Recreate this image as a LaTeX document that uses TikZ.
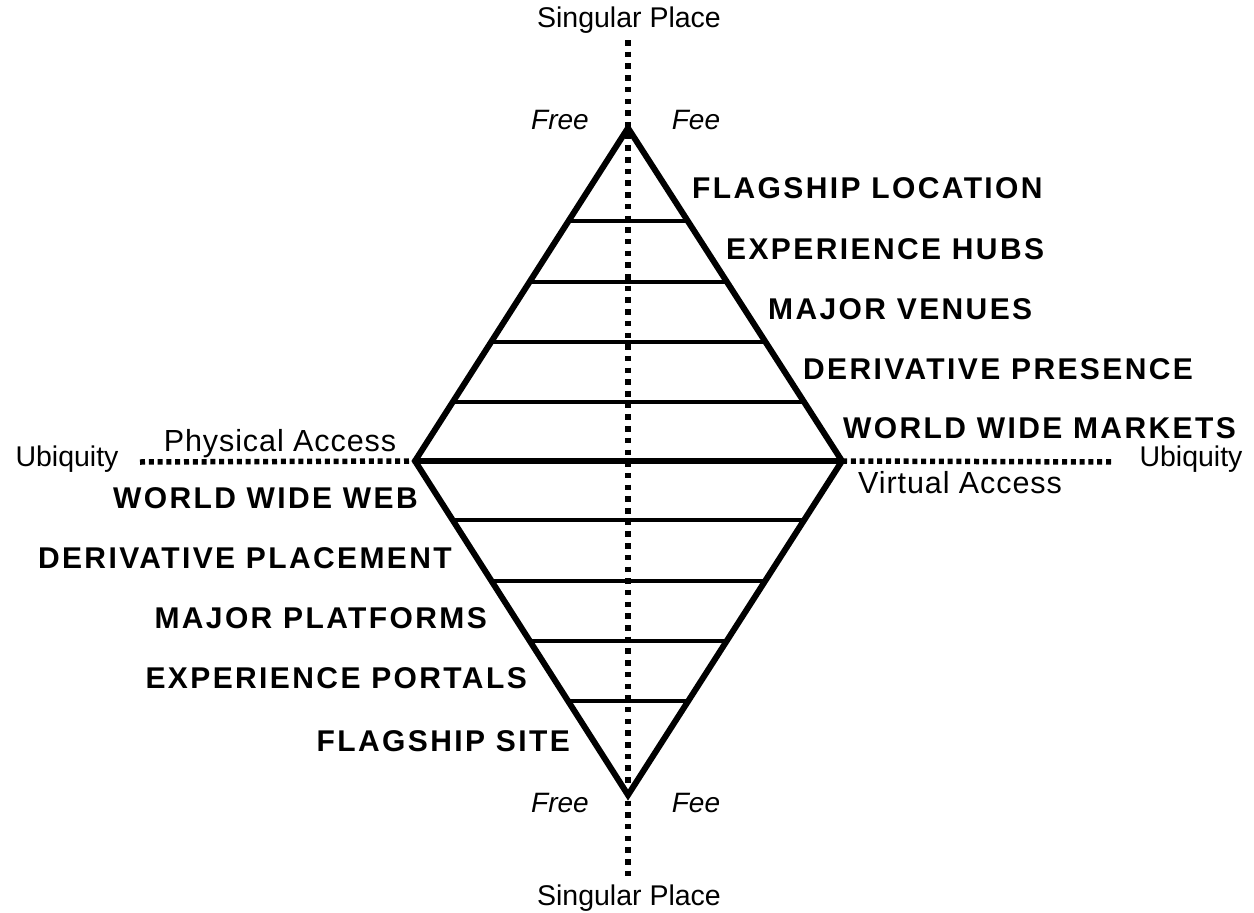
\documentclass[tikz,border=0pt]{standalone}
\usepackage{fontspec}
\setmainfont{Liberation Sans}
\newfontfamily\lblfont{Liberation Sans}[LetterSpace=8]
\newfontfamily\accfont{Liberation Sans}[LetterSpace=3]
\usetikzlibrary{calc}
\tikzset{
  vdots/.style={line width=6pt, dash pattern=on 5.5pt off 6.2pt},
  hdots/.style={line width=5.5pt, dash pattern=on 5pt off 3.8pt},
  rim/.style={line width=6pt, line join=miter, miter limit=20},
  rung/.style={line width=4pt},
  midrung/.style={line width=5.5pt},
  lbl/.style={font=\lblfont\bfseries\fontsize{30}{32}\selectfont, inner sep=0pt},
  plain/.style={font=\fontsize{28.5}{32}\selectfont, inner sep=0pt},
  acc/.style={font=\accfont\fontsize{30.5}{34}\selectfont, inner sep=0pt},
  ital/.style={font=\itshape\fontsize{28}{32}\selectfont, inner sep=0pt},
}
\begin{document}
\begin{tikzpicture}[x=1pt,y=-1pt]
\useasboundingbox[fill=white] (0,0) rectangle (1254,913);
% vertices
\coordinate (T) at (628,128);
\coordinate (B) at (628,795);
\coordinate (L) at (415,461);
\coordinate (R) at (842,461);
% dotted axis ends
\coordinate (vtop) at (628,40);
\coordinate (vbot) at (628,877);
\coordinate (hl) at (140,462);
\coordinate (hr) at (1113,462);
\draw[vdots] (vtop) -- (vbot);
\draw[hdots] (hl) -- (L);
\draw[hdots] (R) -- (hr);
% rungs
\foreach \f in {0.28,0.462,0.642,0.822}{
  \draw[rung] ($(T)!\f!(L)$) -- ($(T)!\f!(R)$);
  \draw[rung] ($(B)!\f!(L)$) -- ($(B)!\f!(R)$);
}
\draw[midrung] (L) -- (R);
\draw[rim] (T) -- (R) -- (B) -- (L) -- cycle;
% axis labels
\node[plain, anchor=base] (sptop) at (629,27) {Singular Place};
\node[plain, anchor=base] (spbot) at (629,905) {Singular Place};
\node[plain, anchor=base] (ubl) at (67,466) {Ubiquity};
\node[plain, anchor=base] (ubr) at (1191,466) {Ubiquity};
\node[acc, anchor=base] (phys) at (280,451) {Physical Access};
\node[acc, anchor=base] (virt) at (960,493) {Virtual Access};
\node[ital, anchor=base] (freet) at (560,129) {Free};
\node[ital, anchor=base] (feet) at (696,129) {Fee};
\node[ital, anchor=base] (freeb) at (560,812) {Free};
\node[ital, anchor=base] (feeb) at (696,812) {Fee};
% right labels
\node[lbl, anchor=base west] (r1) at (692,198) {FLAGSHIP LOCATION};
\node[lbl, anchor=base west] (r2) at (726,259) {EXPERIENCE HUBS};
\node[lbl, anchor=base west] (r3) at (768,319) {MAJOR VENUES};
\node[lbl, anchor=base west] (r4) at (803,379) {DERIVATIVE PRESENCE};
\node[lbl, anchor=base west] (r5) at (843,438) {WORLD WIDE MARKETS};
% left labels
\node[lbl, anchor=base east] (l1) at (418,508) {WORLD WIDE WEB};
\node[lbl, anchor=base east] (l2) at (452,568) {DERIVATIVE PLACEMENT};
\node[lbl, anchor=base east] (l3) at (487,628) {MAJOR PLATFORMS};
\node[lbl, anchor=base east] (l4) at (527,688) {EXPERIENCE PORTALS};
\node[lbl, anchor=base east] (l5) at (570,751) {FLAGSHIP SITE};
\end{tikzpicture}
\end{document}
